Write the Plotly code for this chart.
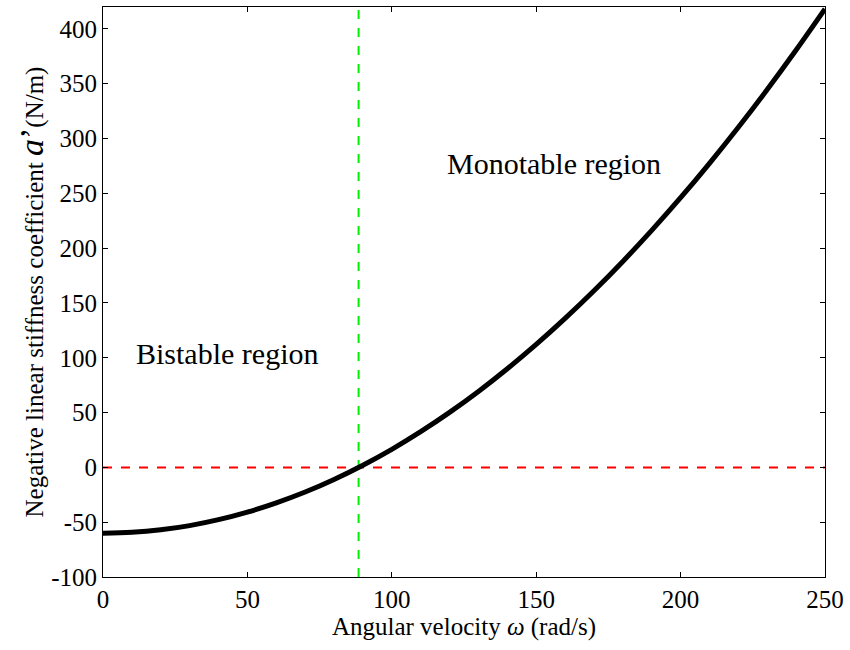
import plotly.graph_objects as go

omega = [0, 10, 20, 30, 40, 50, 60, 70, 80, 90, 100, 110, 120, 130, 140, 150,
         160, 170, 180, 190, 200, 210, 220, 230, 240, 250]
a_prime = [-60, -59.2, -56.9, -53.1, -47.7, -40.8, -32.4, -22.5, -11, 2, 16.5, 32.6,
           50.2, 69.3, 90, 112.2, 135.9, 161.1, 187.9, 216.2, 246, 277.4, 310.3,
           344.7, 380.7, 418.2]
zero_line_x = [0, 250]
zero_line_y = [0, 0]
critical_omega = 88.5
y_range = [-100, 420]
x_ticks = [0, 50, 100, 150, 200, 250]
y_ticks = [-100, -50, 0, 50, 100, 150, 200, 250, 300, 350, 400]
y_tick_text = ["-100", "-50", "0", "50", "100", "150", "200", "250", "300", "350", "400"]

FONT = "Liberation Serif, Times New Roman, serif"

fig = go.Figure()
fig.add_trace(go.Scatter(x=zero_line_x, y=zero_line_y, mode="lines",
                         line=dict(color="#FF0000", width=2, dash="dash"),
                         showlegend=False, hoverinfo="skip"))
fig.add_trace(go.Scatter(x=[critical_omega, critical_omega], y=y_range, mode="lines",
                         line=dict(color="#00EE00", width=2, dash="dash"),
                         showlegend=False, hoverinfo="skip"))
fig.add_trace(go.Scatter(x=omega, y=a_prime, mode="lines", line_shape="spline",
                         line=dict(color="black", width=5), showlegend=False))

fig.add_annotation(x=42.8, y=104, text="Bistable region", showarrow=False,
                   font=dict(family=FONT, size=30, color="black"))
fig.add_annotation(x=156, y=277, text="Monotable region", showarrow=False,
                   font=dict(family=FONT, size=30, color="black"))

axis_common = dict(showline=True, linecolor="black", linewidth=1, mirror="ticks",
                   ticks="inside", ticklen=5, tickcolor="black", showgrid=False,
                   zeroline=False, tickfont=dict(family=FONT, size=25, color="black"))

fig.update_xaxes(range=[0, 250], tickvals=x_ticks,
                 title=dict(text="Angular velocity <i>ω</i> (rad/s)",
                            font=dict(family=FONT, size=25, color="black"), standoff=2),
                 **axis_common)
fig.update_yaxes(range=y_range, tickvals=y_ticks, ticktext=y_tick_text,
                 title=dict(text="Negative linear stiffness coefficient <span style='font-size:34px'><i>a</i>’</span>(N/m)",
                            font=dict(family=FONT, size=25, color="black"), standoff=0),
                 **axis_common)

fig.update_layout(width=850, height=650, plot_bgcolor="white", paper_bgcolor="white",
                  margin=dict(l=103, r=22, t=6, b=73))

fig.write_html("out.html")
